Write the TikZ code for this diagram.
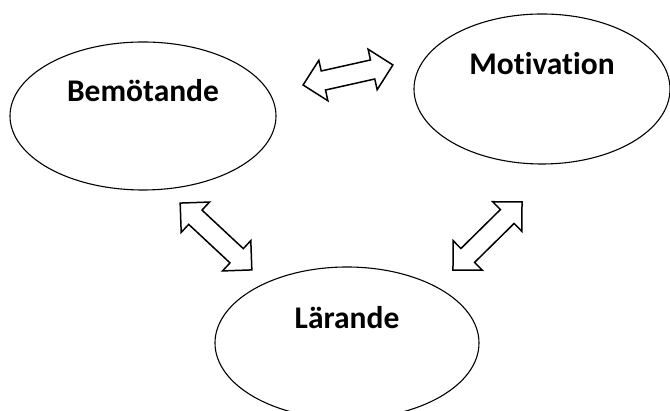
\documentclass[tikz,border=0pt]{standalone}
\usepackage{fontspec}
\setmainfont{Carlito}[Ligatures=NoCommon]
\usetikzlibrary{shapes.geometric,shapes.arrows}

\begin{document}
\begin{tikzpicture}[
  x=1pt, y=1pt,
  font=\bfseries\fontsize{31.5}{38}\selectfont,
  blob/.style={draw, ellipse, line width=1.1pt, inner sep=0pt},
  lbl/.style={anchor=base, inner sep=0pt},
  swap/.style={draw, double arrow, line width=1.5pt, fill=white, inner sep=9pt,
               minimum width=40pt, double arrow head extend=11pt}
]
  \useasboundingbox (0,0) rectangle (670,411);
  \clip (0,0) rectangle (670,411);

  \node[blob, minimum width=266pt, minimum height=148pt] (bem) at (143,295) {};
  \node[blob, minimum width=256pt, minimum height=150pt] (mot) at (542,322) {};
  \node[blob, minimum width=264pt, minimum height=152pt] (lar) at (347,68) {};

  \node[lbl] (bemtxt) at ([yshift=14.5pt]bem.center) {Bemötande};
  \node[lbl] (mottxt) at ([yshift=14pt]mot.center) {Motivation};
  \node[lbl] (lartxt) at ([yshift=14pt]lar.center) {Lärande};

  \node[swap, minimum height=92pt, rotate=12.6] (bemmot) at (348,336) {};
  \node[swap, minimum height=98pt, rotate=-43] (bemlar) at (216,174.5) {};
  \node[swap, minimum height=97pt, rotate=44.6] (larmot) at (487.5,175) {};
\end{tikzpicture}
\end{document}
